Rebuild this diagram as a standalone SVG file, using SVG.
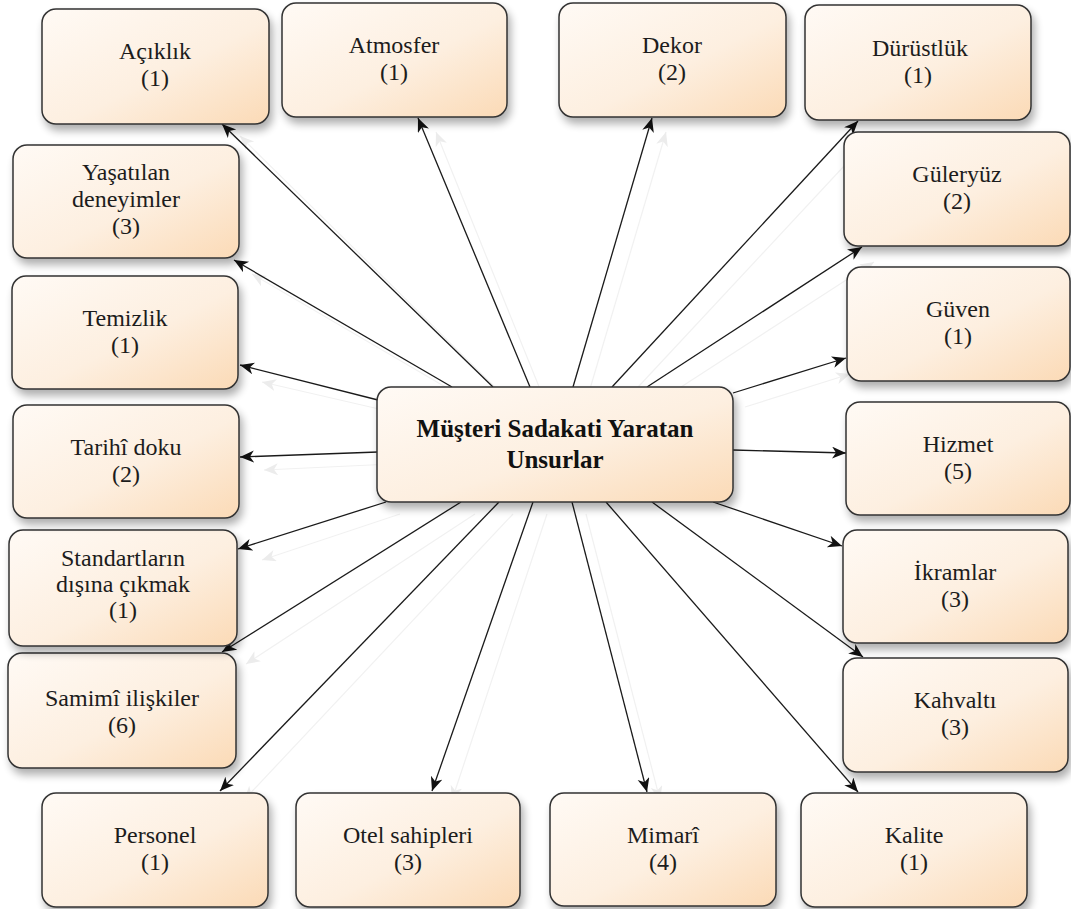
<svg xmlns="http://www.w3.org/2000/svg" width="1071" height="909" viewBox="0 0 1071 909">
  <style>
    .box { fill: url(#boxFill); stroke: #333333; stroke-width: 1.5; filter: url(#boxShadow); }
    .lbl { font-family: "Liberation Serif", "Times New Roman", serif; font-size: 24px; fill: #1c1c1c; text-anchor: middle; }
    .title { font-family: "Liberation Serif", "Times New Roman", serif; font-size: 25px; font-weight: bold; fill: #111; text-anchor: middle; }
    .link { stroke: #1a1a1a; stroke-width: 1.3; fill: none; marker-end: url(#arrow); }
    .ghost { stroke: #f1f1f1; stroke-width: 1.2; fill: none; marker-end: url(#arrowGhost); }
  </style>
  <defs>
    <linearGradient id="boxFill" x1="0" y1="0" x2="1" y2="1">
      <stop offset="0" stop-color="#fffaf5"/>
      <stop offset="0.55" stop-color="#fdefe0"/>
      <stop offset="1" stop-color="#fbdab6"/>
    </linearGradient>
    <filter id="boxShadow" x="-10%" y="-10%" width="130%" height="140%">
      <feGaussianBlur in="SourceAlpha" stdDeviation="4"/>
      <feOffset dx="3" dy="6" result="blur"/>
      <feComponentTransfer><feFuncA type="linear" slope="0.32"/></feComponentTransfer>
      <feMerge><feMergeNode/><feMergeNode in="SourceGraphic"/></feMerge>
    </filter>
    <marker id="arrow" markerUnits="userSpaceOnUse" markerWidth="16" markerHeight="14" refX="14" refY="6" orient="auto">
      <path d="M0,0 L14,6 L0,12 L4,6 z" fill="#111"/>
    </marker>
    <marker id="arrowGhost" markerUnits="userSpaceOnUse" markerWidth="16" markerHeight="14" refX="14" refY="6" orient="auto">
      <path d="M0,0 L14,6 L0,12 L4,6 z" fill="#ececec"/>
    </marker>
  </defs>

  <rect width="1071" height="909" fill="#ffffff"/>

  <!-- connectors: soft shadow copies, then the arrows from the central node -->
  <g id="connectors">
    <g id="connector-shadows">
      <line class="ghost" x1="507" y1="399" x2="240" y2="136"/>
      <line class="ghost" x1="544" y1="399" x2="436" y2="132"/>
      <line class="ghost" x1="587" y1="399" x2="666" y2="132"/>
      <line class="ghost" x1="466" y1="399" x2="252" y2="274"/>
      <line class="ghost" x1="392" y1="412" x2="262" y2="382"/>
      <line class="ghost" x1="392" y1="464" x2="264" y2="470"/>
      <line class="ghost" x1="400" y1="514" x2="262" y2="560"/>
      <line class="ghost" x1="475" y1="514" x2="246" y2="664"/>
      <line class="ghost" x1="513" y1="514" x2="244" y2="800"/>
      <line class="ghost" x1="547" y1="514" x2="452" y2="800"/>
      <line class="ghost" x1="586" y1="514" x2="660" y2="800"/>
      <line class="ghost" x1="626" y1="400" x2="872" y2="136"/>
      <line class="ghost" x1="661" y1="400" x2="874" y2="262"/>
      <line class="ghost" x1="745" y1="407" x2="850" y2="374"/>
    </g>
    <line class="link" x1="493" y1="387" x2="222" y2="124"/>
    <line class="link" x1="530" y1="387" x2="418" y2="118"/>
    <line class="link" x1="573" y1="387" x2="652" y2="118"/>
    <line class="link" x1="612" y1="387" x2="858" y2="121"/>
    <line class="link" x1="647" y1="387" x2="862" y2="247"/>
    <line class="link" x1="452" y1="387" x2="234" y2="260"/>
    <line class="link" x1="378" y1="400" x2="240" y2="365"/>
    <line class="link" x1="378" y1="452" x2="240" y2="457"/>
    <line class="link" x1="386" y1="502" x2="238" y2="549"/>
    <line class="link" x1="461" y1="502" x2="222" y2="652"/>
    <line class="link" x1="499" y1="502" x2="220" y2="791"/>
    <line class="link" x1="533" y1="502" x2="432" y2="791"/>
    <line class="link" x1="572" y1="502" x2="647" y2="792"/>
    <line class="link" x1="606" y1="502" x2="858" y2="792"/>
    <line class="link" x1="652" y1="502" x2="863" y2="657"/>
    <line class="link" x1="713" y1="502" x2="842" y2="546"/>
    <line class="link" x1="733" y1="450" x2="846" y2="453"/>
    <line class="link" x1="733" y1="393" x2="846" y2="358"/>
  </g>

  <g id="node-center">
    <rect class="box" x="377" y="387" width="356" height="115" rx="14"/>
    <text class="title" x="555" y="437">Müşteri Sadakati Yaratan</text>
    <text class="title" x="555" y="468">Unsurlar</text>
  </g>

  <g id="node-aciklik">
    <rect class="box" x="42" y="9" width="227" height="115" rx="14"/>
    <text class="lbl" x="155" y="59">Açıklık</text>
    <text class="lbl" x="155" y="86">(1)</text>
  </g>
  <g id="node-atmosfer">
    <rect class="box" x="282" y="3" width="225" height="114" rx="14"/>
    <text class="lbl" x="394" y="53">Atmosfer</text>
    <text class="lbl" x="394" y="80">(1)</text>
  </g>
  <g id="node-dekor">
    <rect class="box" x="559" y="3" width="227" height="114" rx="14"/>
    <text class="lbl" x="672" y="53">Dekor</text>
    <text class="lbl" x="672" y="80">(2)</text>
  </g>
  <g id="node-durustluk">
    <rect class="box" x="805" y="5" width="226" height="115" rx="14"/>
    <text class="lbl" x="920" y="56">Dürüstlük</text>
    <text class="lbl" x="918" y="83">(1)</text>
  </g>
  <g id="node-guleryuz">
    <rect class="box" x="844" y="132" width="226" height="114" rx="14"/>
    <text class="lbl" x="957" y="182">Güleryüz</text>
    <text class="lbl" x="957" y="209">(2)</text>
  </g>
  <g id="node-guven">
    <rect class="box" x="847" y="267" width="223" height="114" rx="14"/>
    <text class="lbl" x="958" y="317">Güven</text>
    <text class="lbl" x="958" y="344">(1)</text>
  </g>
  <g id="node-hizmet">
    <rect class="box" x="846" y="402" width="224" height="113" rx="14"/>
    <text class="lbl" x="958" y="452">Hizmet</text>
    <text class="lbl" x="958" y="479">(5)</text>
  </g>
  <g id="node-ikramlar">
    <rect class="box" x="843" y="530" width="225" height="113" rx="14"/>
    <text class="lbl" x="955" y="580">İkramlar</text>
    <text class="lbl" x="955" y="607">(3)</text>
  </g>
  <g id="node-kahvalti">
    <rect class="box" x="843" y="658" width="225" height="114" rx="14"/>
    <text class="lbl" x="955" y="708">Kahvaltı</text>
    <text class="lbl" x="955" y="735">(3)</text>
  </g>
  <g id="node-kalite">
    <rect class="box" x="801" y="793" width="226" height="114" rx="14"/>
    <text class="lbl" x="914" y="843">Kalite</text>
    <text class="lbl" x="914" y="870">(1)</text>
  </g>
  <g id="node-mimari">
    <rect class="box" x="550" y="793" width="226" height="113" rx="14"/>
    <text class="lbl" x="663" y="843">Mimarî</text>
    <text class="lbl" x="663" y="870">(4)</text>
  </g>
  <g id="node-otel">
    <rect class="box" x="296" y="793" width="224" height="114" rx="14"/>
    <text class="lbl" x="408" y="843">Otel sahipleri</text>
    <text class="lbl" x="408" y="870">(3)</text>
  </g>
  <g id="node-personel">
    <rect class="box" x="42" y="793" width="226" height="114" rx="14"/>
    <text class="lbl" x="155" y="843">Personel</text>
    <text class="lbl" x="155" y="870">(1)</text>
  </g>
  <g id="node-samimi">
    <rect class="box" x="8" y="653" width="228" height="115" rx="14"/>
    <text class="lbl" x="122" y="706">Samimî ilişkiler</text>
    <text class="lbl" x="122" y="733">(6)</text>
  </g>
  <g id="node-standart">
    <rect class="box" x="9" y="530" width="228" height="116" rx="14"/>
    <text class="lbl" x="123" y="566">Standartların</text>
    <text class="lbl" x="123" y="592">dışına çıkmak</text>
    <text class="lbl" x="123" y="618">(1)</text>
  </g>
  <g id="node-tarihi">
    <rect class="box" x="13" y="405" width="226" height="113" rx="14"/>
    <text class="lbl" x="126" y="455">Tarihî doku</text>
    <text class="lbl" x="126" y="482">(2)</text>
  </g>
  <g id="node-temizlik">
    <rect class="box" x="12" y="276" width="226" height="113" rx="14"/>
    <text class="lbl" x="125" y="326">Temizlik</text>
    <text class="lbl" x="125" y="353">(1)</text>
  </g>
  <g id="node-yasatilan">
    <rect class="box" x="13" y="145" width="226" height="113" rx="14"/>
    <text class="lbl" x="126" y="180">Yaşatılan</text>
    <text class="lbl" x="126" y="207">deneyimler</text>
    <text class="lbl" x="126" y="234">(3)</text>
  </g>
</svg>
